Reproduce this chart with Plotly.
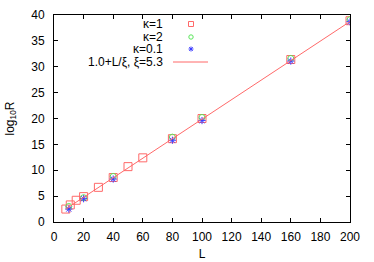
import plotly.graph_objects as go

# kappa = 1 (red squares)
L_k1 = [8, 11, 15, 20, 30, 40, 50, 60, 80, 100, 160, 200]
R_k1 = [2.5, 3.3, 4.2, 4.9, 6.7, 8.6, 10.7, 12.4, 16.1, 20.0, 31.4, 38.9]
# kappa = 2 (green circles)
L_k2 = [10, 20, 40, 80, 100, 160, 200]
R_k2 = [3.0, 4.7, 8.8, 16.4, 20.2, 31.6, 39.1]
# kappa = 0.1 (blue stars)
L_k01 = [10, 20, 40, 80, 100, 160, 200]
R_k01 = [2.5, 4.5, 8.3, 15.8, 19.6, 31.1, 38.7]
# fit 1.0 + L/xi
xi = 5.3
L_fit = [8, 200]
R_fit = [1.0 + v / xi for v in L_fit]

labels = ["κ=1", "κ=2", "κ=0.1", "1.0+L/ξ, ξ=5.3"]

red = "rgb(255,105,105)"
green = "rgb(90,230,90)"
blue = "rgb(60,60,255)"
FONT = "Liberation Sans, Arial"

fig = go.Figure()
fig.add_trace(go.Scatter(x=L_k1, y=R_k1, mode="markers", name=labels[0],
                         marker=dict(symbol="square-open", size=8, color=red, line=dict(width=1, color=red))))
fig.add_trace(go.Scatter(x=L_k2, y=R_k2, mode="markers", name=labels[1],
                         marker=dict(symbol="circle-open", size=6, color=green, line=dict(width=1, color=green))))
fig.add_trace(go.Scatter(x=L_k01, y=R_k01, mode="markers", name=labels[2],
                         marker=dict(symbol="asterisk-open", size=6, color=blue, line=dict(width=1, color=blue))))
fig.add_trace(go.Scatter(x=L_fit, y=R_fit, mode="lines", name=labels[3],
                         line=dict(color=red, width=1)))

# gnuplot-style key: right-aligned text with samples on the right
W0, W1, H0, H1 = 54, 350, 15, 222
def px(x):
    return (x - W0) / (W1 - W0)
def py(y):
    return (H1 - y) / (H1 - H0)

key_y = [24, 37, 49, 62]
for lab, yy in zip(labels, key_y):
    fig.add_annotation(x=px(165), y=py(yy), xref="paper", yref="paper", text=lab,
                       showarrow=False, xanchor="right", yanchor="middle",
                       font=dict(family=FONT, size=12, color="black"))

sx = px(191)
fig.add_shape(type="rect", xref="paper", yref="paper", xsizemode="pixel", ysizemode="pixel",
              xanchor=sx, yanchor=py(key_y[0]), x0=-2.5, x1=2.5, y0=-2.5, y1=2.5,
              line=dict(color=red, width=1))
fig.add_shape(type="circle", xref="paper", yref="paper", xsizemode="pixel", ysizemode="pixel",
              xanchor=sx, yanchor=py(key_y[1]), x0=-2.2, x1=2.2, y0=-2.2, y1=2.2,
              line=dict(color=green, width=1))
fig.add_shape(type="path", xref="paper", yref="paper", xsizemode="pixel", ysizemode="pixel",
              xanchor=sx, yanchor=py(key_y[2]),
              path="M-2.5,0 L2.5,0 M0,-2.5 L0,2.5 M-1.8,-1.8 L1.8,1.8 M-1.8,1.8 L1.8,-1.8",
              line=dict(color=blue, width=1))
fig.add_shape(type="line", xref="paper", yref="paper", x0=px(173), x1=px(208),
              y0=py(key_y[3]), y1=py(key_y[3]), line=dict(color=red, width=1))

axis_common = dict(showgrid=False, zeroline=False, ticks="inside", ticklen=4, tickcolor="black",
                   showline=True, linecolor="black", linewidth=1, mirror="allticks",
                   automargin=False,
                   tickfont=dict(family=FONT, size=12, color="black"))
fig.update_xaxes(range=[0, 200], dtick=20, tick0=0, ticklabelstandoff=4,
                 title=dict(text="L", standoff=6, font=dict(family=FONT, size=12, color="black")),
                 **axis_common)
fig.update_yaxes(range=[0, 40], dtick=5, tick0=0, ticklabelstandoff=6,
                 title=dict(text="log<sub>10</sub>R", standoff=14, font=dict(family=FONT, size=12, color="black")),
                 **axis_common)
fig.update_layout(width=374, height=262, showlegend=False,
                  margin=dict(l=54, r=24, t=15, b=40, autoexpand=False),
                  plot_bgcolor="white", paper_bgcolor="white")
fig.write_html("out.html", config={"displayModeBar": False, "staticPlot": True},
               post_script="document.body.style.margin='0';")
